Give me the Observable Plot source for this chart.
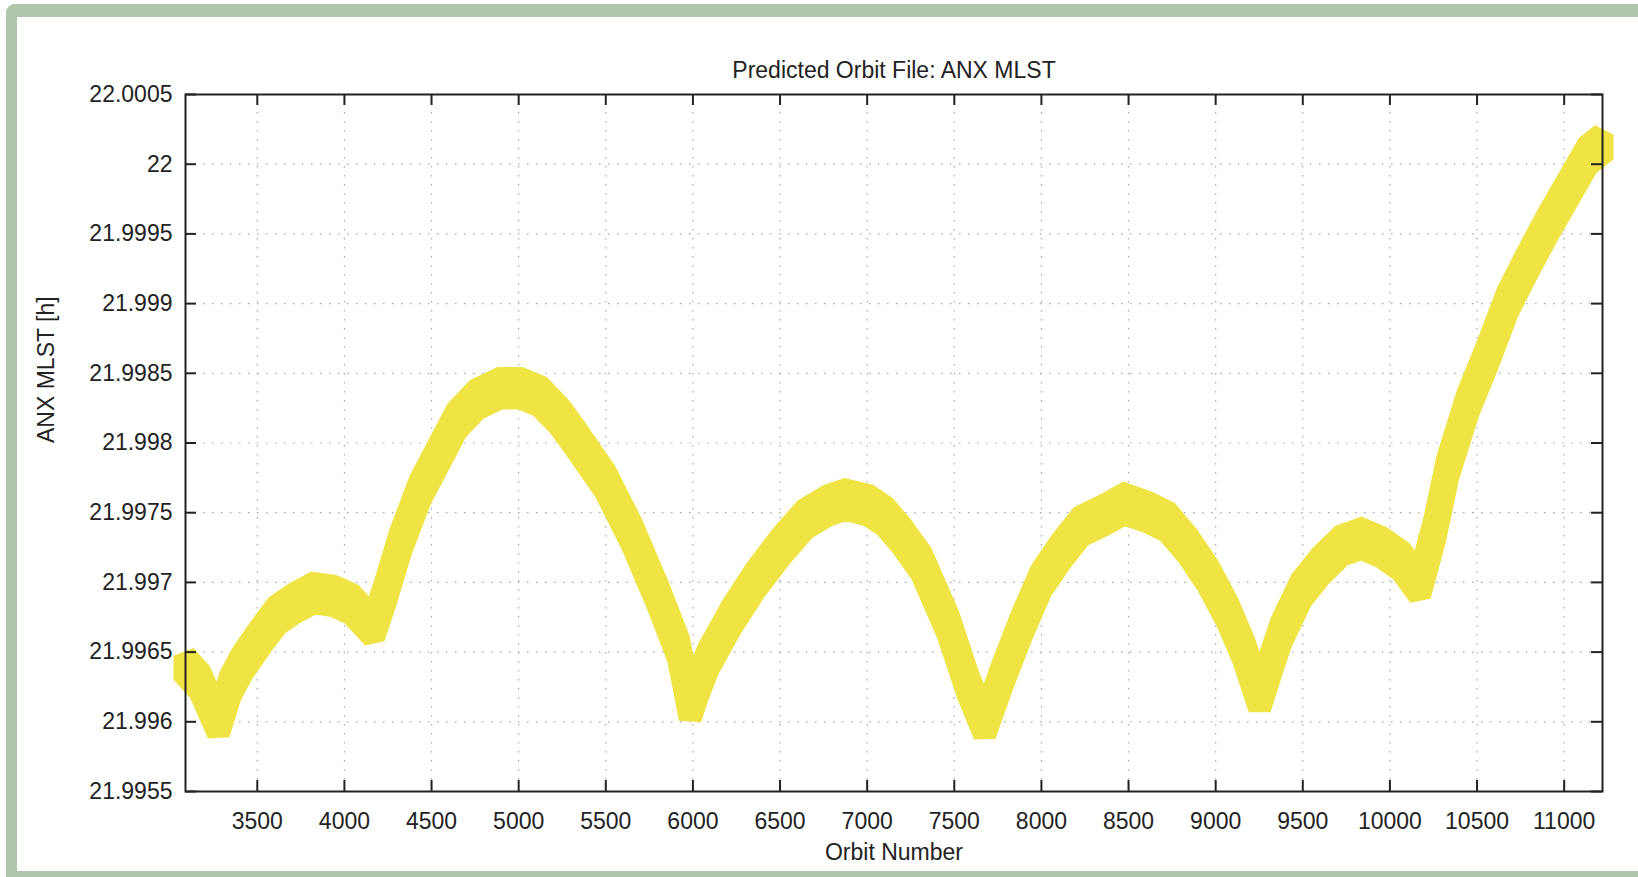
<!DOCTYPE html>
<html>
<head>
<meta charset="utf-8">
<script src="https://cdn.jsdelivr.net/npm/d3@7"></script>
<script src="https://cdn.jsdelivr.net/npm/@observablehq/plot@0.6"></script>
<style>
  html, body { margin: 0; padding: 0; background: #ffffff; }
  #wrap { position: relative; width: 1638px; height: 877px; overflow: hidden; background: #ffffff; }
  #border { position: absolute; left: 6px; top: 4px; width: 1700px; height: 873px; box-sizing: border-box;
            border-left: 11px solid #b0c5a9; border-top: 13px solid #b0c5a9; border-bottom: 6px solid #b0c5a9;
            border-top-left-radius: 9px; background: #ffffff; }
  #chart { position: absolute; left: 0; top: 0; }
</style>
</head>
<body>
<div id="wrap"><div id="border"></div><div id="chart"></div></div>
<script>
const titleText = "Predicted Orbit File: ANX MLST";
const xLabel = "Orbit Number";
const yLabel = "ANX MLST [h]";

const xTicks = [3500, 4000, 4500, 5000, 5500, 6000, 6500, 7000, 7500, 8000, 8500, 9000, 9500, 10000, 10500, 11000];
const yTicks = [21.9955, 21.996, 21.9965, 21.997, 21.9975, 21.998, 21.9985, 21.999, 21.9995, 22, 22.0005];

// Orbit numbers and the lower / upper envelope of the ANX MLST band [h]
const orbit = [3088, 3175, 3280, 3347, 3414, 3519, 3615, 3720, 3825, 3940, 4045, 4103, 4170, 4237, 4323, 4438, 4543, 4648, 4763, 4897,
  5012, 5126, 5241, 5328, 5500, 5653, 5806, 5920, 5987, 6030, 6092, 6226, 6360, 6513, 6646, 6780, 6876, 7009, 7105, 7200,
  7315, 7353, 7468, 7582, 7677, 7773, 7887, 8002, 8116, 8231, 8364, 8479, 8613, 8727, 8842, 8956, 9071, 9166, 9255, 9339,
  9380, 9494, 9609, 9724, 9838, 9953, 10067, 10173, 10259, 10335, 10450, 10564, 10679, 10793, 10908, 11023, 11138, 11220];
const mlstLow = [21.99633, 21.99621, 21.99591, 21.99618, 21.99634, 21.99653, 21.99669, 21.99678, 21.99685, 21.99683, 21.99677, 21.99669, 21.99660, 21.99685, 21.99721, 21.99759, 21.99784, 21.99809, 21.99824, 21.99832,
  21.99832, 21.99826, 21.99811, 21.99796, 21.99765, 21.99727, 21.99682, 21.99645, 21.99602, 21.99618, 21.99638, 21.99668, 21.99694, 21.99719, 21.99738, 21.99748, 21.99752, 21.99748, 21.99740, 21.99726,
  21.99706, 21.99695, 21.99662, 21.99619, 21.99590, 21.99624, 21.99661, 21.99694, 21.99715, 21.99733, 21.99741, 21.99749, 21.99743, 21.99736, 21.99719, 21.99698, 21.99671, 21.99643, 21.99609, 21.99642,
  21.99657, 21.99687, 21.99705, 21.99719, 21.99724, 21.99718, 21.99708, 21.99690, 21.99730, 21.99775, 21.99821, 21.99856, 21.99894, 21.99922, 21.99949, 21.99974, 21.99999, 22.00007];
const mlstHigh = [21.99647, 21.99635, 21.99605, 21.99632, 21.99648, 21.99667, 21.99683, 21.99692, 21.99699, 21.99697, 21.99691, 21.99683, 21.99674, 21.99699, 21.99735, 21.99773, 21.99798, 21.99823, 21.99838, 21.99846,
  21.99846, 21.99840, 21.99825, 21.99810, 21.99779, 21.99741, 21.99696, 21.99659, 21.99616, 21.99632, 21.99652, 21.99682, 21.99708, 21.99733, 21.99752, 21.99762, 21.99766, 21.99762, 21.99754, 21.99740,
  21.99720, 21.99709, 21.99676, 21.99633, 21.99604, 21.99638, 21.99675, 21.99708, 21.99729, 21.99747, 21.99755, 21.99763, 21.99757, 21.99750, 21.99733, 21.99712, 21.99685, 21.99657, 21.99623, 21.99656,
  21.99671, 21.99701, 21.99719, 21.99733, 21.99738, 21.99732, 21.99722, 21.99704, 21.99744, 21.99789, 21.99835, 21.99870, 21.99908, 21.99936, 21.99963, 21.99988, 22.00013, 22.00021];

const rows = orbit.map((o, i) => ({orbit: o, lo: mlstLow[i], hi: mlstHigh[i]}));

const W = 1638, H = 877;
const mL = 185, mR = 36, mT = 94, mB = 86;
const innerW = W - mL - mR, innerH = H - mT - mB;
const tickLen = 11;
const yellow = "#efe443";
const ink = "#222222";

const chart = Plot.plot({
  width: W,
  height: H,
  marginLeft: mL,
  marginRight: mR,
  marginTop: mT,
  marginBottom: mB,
  style: {fontFamily: "'Liberation Sans', Arial, sans-serif", fontSize: "23px", color: ink, background: "transparent", overflow: "visible"},
  x: {domain: [3088, 11220], ticks: xTicks, tickSize: 0, tickPadding: 21, tickFormat: d => String(d), label: null},
  y: {domain: [21.9955, 22.0005], ticks: yTicks, tickSize: 0, tickPadding: 13, tickFormat: d => String(+d.toFixed(4)), label: null},
  marks: [
    Plot.ruleX(xTicks, {x: d => d, stroke: "#a8a8a8", strokeWidth: 1.2, strokeDasharray: "1.5,7.5"}),
    Plot.ruleY(yTicks.slice(1, -1), {y: d => d, stroke: "#a8a8a8", strokeWidth: 1.2, strokeDasharray: "1.5,7.5"}),
    Plot.areaY(rows, {x: "orbit", y1: "lo", y2: "hi", fill: yellow, stroke: yellow, strokeWidth: 23, strokeLinejoin: "miter", strokeMiterlimit: 1.5}),
    Plot.frame({stroke: ink, strokeWidth: 2}),
    Plot.tickX(xTicks, {x: d => d, insetTop: innerH - tickLen, stroke: ink, strokeWidth: 2}),
    Plot.tickX(xTicks, {x: d => d, insetBottom: innerH - tickLen, stroke: ink, strokeWidth: 2}),
    Plot.tickY(yTicks, {y: d => d, insetRight: innerW - tickLen, stroke: ink, strokeWidth: 2}),
    Plot.tickY(yTicks, {y: d => d, insetLeft: innerW - tickLen, stroke: ink, strokeWidth: 2}),
    Plot.text([titleText], {text: d => d, frameAnchor: "top", dy: -33, fill: ink, fontSize: 23}),
    Plot.text([xLabel], {text: d => d, frameAnchor: "bottom", dy: 68, fill: ink, fontSize: 23}),
    Plot.text([yLabel], {text: d => d, frameAnchor: "left", dx: -139, rotate: -90, fill: ink, fontSize: 23})
  ]
});
document.getElementById("chart").appendChild(chart);
</script>
</body>
</html>
